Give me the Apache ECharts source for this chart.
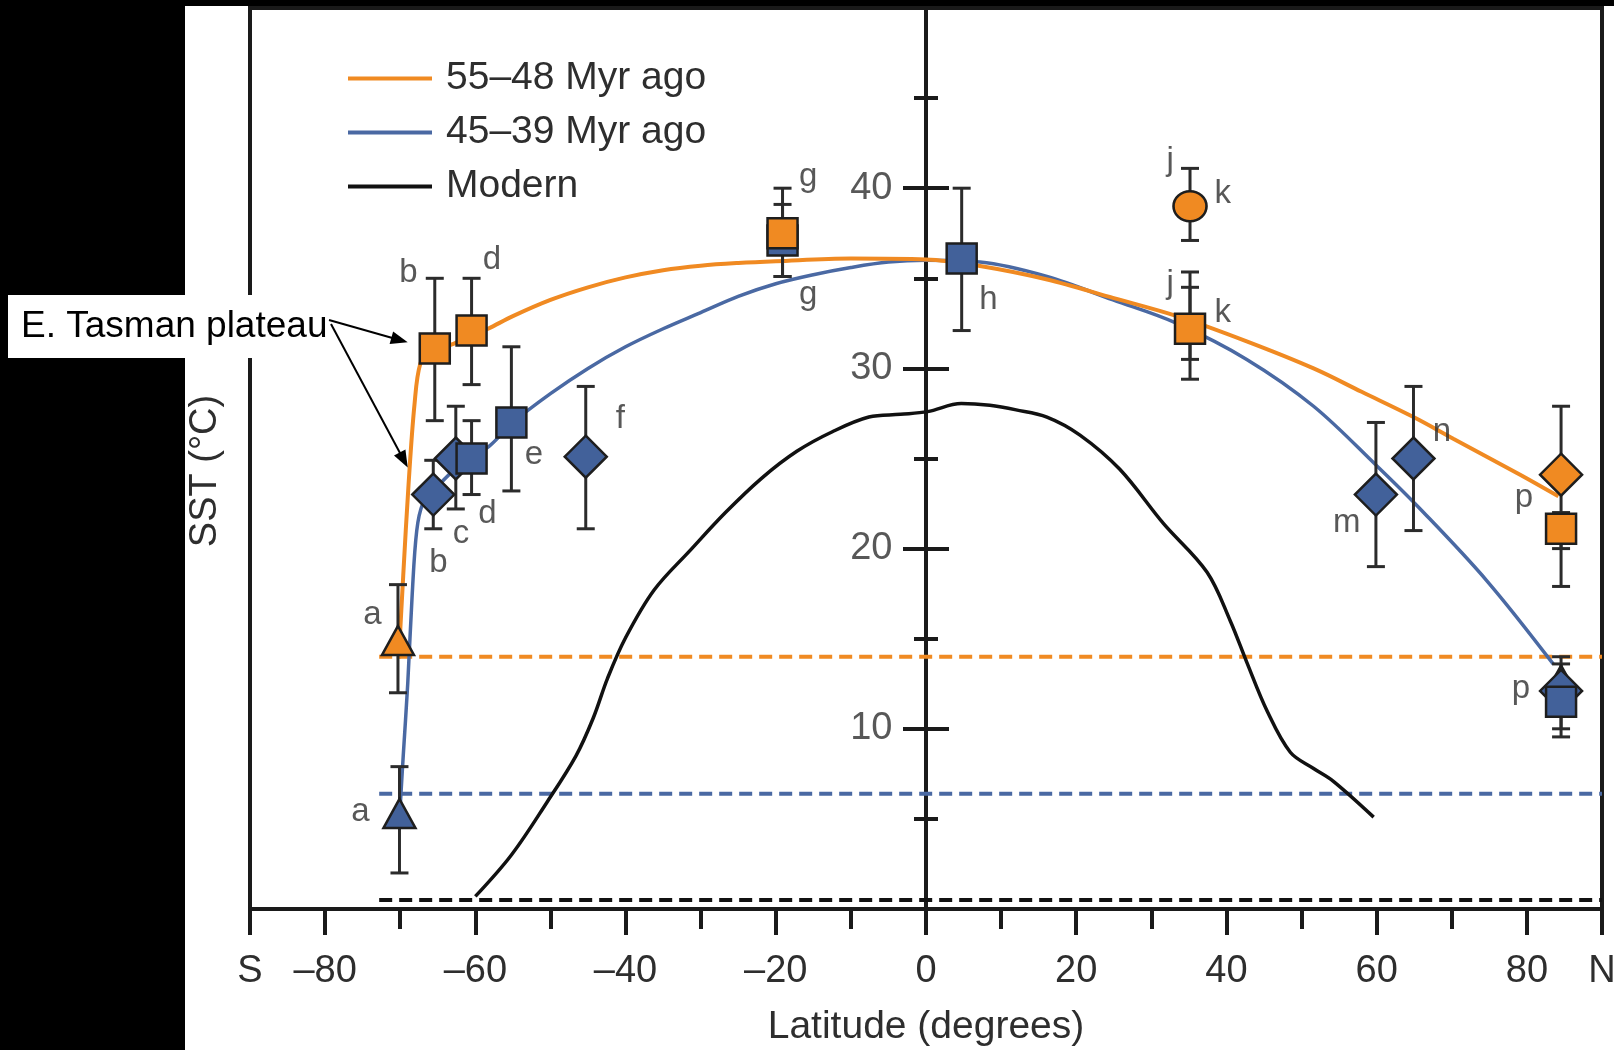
<!DOCTYPE html>
<html><head><meta charset="utf-8">
<script src="https://cdn.jsdelivr.net/npm/echarts@6/dist/echarts.min.js"></script>
<style>html,body{margin:0;padding:0;background:#fff}#chart{width:1614px;height:1050px}</style>
</head><body><div id="chart"></div>
<script>
// ---------------- data ----------------
const seriesNames = ['55–48 Myr ago', '45–39 Myr ago', 'Modern'];

const xTickValues = [-90, -80, -60, -40, -20, 0, 20, 40, 60, 80, 90];
const xTickLabels = ['S', '–80', '–60', '–40', '–20', '0', '20', '40', '60', '80', 'N'];
const xMajorTicks = [-90, -80, -60, -40, -20, 0, 20, 40, 60, 80, 90];
const xMinorTicks = [-70, -50, -30, -10, 10, 30, 50, 70];
const yTickValues = [10, 20, 30, 40];
const yTickLabels = ['10', '20', '30', '40'];

const orangeCurve = [[-70.2, 13.9], [-69.6, 18.5], [-68.9, 23.5], [-68.1, 28.0], [-67.3, 30.3], [-66.0, 30.9],
  [-63.3, 31.3], [-60.5, 31.8], [-58.3, 32.2], [-55, 32.9], [-50, 33.8], [-45, 34.5], [-40, 35.05],
  [-35, 35.45], [-30, 35.7], [-25, 35.85], [-20, 35.95], [-10, 36.1], [0, 36.05], [7, 35.7], [16, 34.95],
  [25, 33.9], [33.4, 32.9], [42.7, 31.5], [51.6, 30.0], [58, 28.7], [64.9, 27.3], [70.2, 26.1],
  [79.1, 24.1], [84.2, 22.9]];
const blueCurve = [[-70.1, 5.0], [-69.6, 8.5], [-69.0, 12.5], [-68.4, 17.5], [-67.8, 21.0], [-67.0, 22.5],
  [-65.6, 23.2], [-63, 24.3], [-60.5, 25.1], [-58.1, 25.7], [-55, 27.0], [-50, 28.6], [-45, 30.0],
  [-40, 31.2], [-35, 32.2], [-30, 33.1], [-25, 34.0], [-20, 34.7], [-15, 35.2], [-10, 35.6], [-5, 35.9],
  [0, 36.0], [7.2, 35.9], [16.1, 35.1], [24.9, 33.8], [33.4, 32.5], [42.7, 30.5], [51.6, 27.9],
  [60, 24.6], [65.8, 22.2], [74.7, 18.2], [83.5, 13.6]];
const modernCurve = [[-60.0, 0.7], [-55.2, 3.0], [-50.5, 5.9], [-46.6, 8.5], [-44.3, 10.6], [-42.4, 12.8],
  [-40.0, 15.05], [-36.2, 17.7], [-31.4, 19.9], [-26.7, 22.0], [-21.9, 23.9], [-17.2, 25.4], [-12.4, 26.5],
  [-7.6, 27.3], [-3.4, 27.45], [0.2, 27.6], [4.7, 28.05], [8.5, 27.95], [12, 27.7], [16.1, 27.3],
  [20.5, 26.3], [25.8, 24.4], [31.6, 21.4], [37.4, 18.7], [40.5, 16.0], [42.7, 13.7], [45.4, 11.0],
  [48.5, 8.7], [51.6, 7.8], [54.2, 7.1], [59.6, 5.1]];

const limitStart = -72.8;
const orangeLimit = 14.0;
const blueLimit = 6.4;
const modernLimit = 0.5;

const orangeTriangles = [[-70.3, 14.9]];
const orangeCircles = [[35.15, 39.0]];
const orangeDiamonds = [[84.55, 24.1]];
const orangeSquares = [[-65.4, 31.1], [-60.5, 32.1], [-19.1, 37.5], [35.15, 32.2], [84.55, 21.1]];
const blueTriangles = [[-70.1, 5.3], [84.55, 12.7]];
const blueDiamonds = [[-62.6, 25.0], [-65.6, 23.0], [-45.3, 25.1], [59.9, 23.0], [64.9, 25.0], [84.55, 12.1]];
const blueSquares = [[-60.5, 25.0], [-55.2, 27.0], [-19.1, 37.1], [4.75, 36.1], [84.55, 11.5]];

// [latitude, low, high]
const errorBars = [
  [-70.3, 12.0, 18.0], [-70.1, 2.0, 7.9],
  [-65.4, 27.1, 35.0], [-60.5, 29.1, 35.0],
  [-65.6, 21.1, 24.9], [-62.6, 22.2, 27.9], [-60.5, 23.0, 27.1], [-55.2, 23.2, 31.2], [-45.3, 21.1, 29.0],
  [-19.1, 35.1, 40.0], [-19.1, 35.1, 39.1],
  [4.75, 32.1, 40.0],
  [35.15, 37.1, 41.1], [35.15, 29.4, 35.35], [35.15, 30.5, 34.5],
  [59.9, 19.0, 27.0], [64.9, 21.0, 29.0],
  [84.55, 20.0, 27.9], [84.55, 17.9, 22.0],
  [84.55, 10.0, 13.6], [84.55, 9.55, 14.0]
];

const letterLabels = [
  ['a', -73.7, 16.3], ['a', -75.3, 5.4],
  ['b', -68.9, 35.3], ['d', -57.8, 36.0],
  ['b', -64.9, 19.2], ['c', -61.9, 20.8], ['d', -58.4, 21.9], ['e', -52.2, 25.2], ['f', -40.7, 27.2],
  ['g', -15.7, 40.6], ['g', -15.7, 34.1], ['h', 8.3, 33.8],
  ['j', 32.5, 41.5], ['k', 39.5, 39.7], ['j', 32.5, 34.7], ['k', 39.5, 33.1],
  ['m', 56.0, 21.4], ['n', 68.7, 26.5], ['p', 79.6, 22.8], ['p', 79.2, 12.2]
];

const annotationText = 'E. Tasman plateau';
const arrowTargets = [[-69.0, 31.45], [-69.0, 24.5]];

// ---------------- style ----------------
const FONT = "'Liberation Sans', Arial, Helvetica, sans-serif";
const ORANGE = '#f08a22';
const BLUE_LINE = '#4a69a3';
const BLUE_FILL = '#42619a';
const INK = '#1a1a1a';
const TEXT = '#2e2e2e';

const chart = echarts.init(document.getElementById('chart'), null, {renderer: 'canvas'});

function markerSeries(data, symbol, size, fill) {
  return {
    type: 'scatter', data: data, symbol: symbol, symbolSize: size, silent: true, z: 5,
    itemStyle: {color: fill, borderColor: '#1e1e1e', borderWidth: 2.5, opacity: 1}
  };
}
function limitSeries(level, color) {
  return {
    type: 'line', data: [[limitStart, level], [90, level]], symbol: 'none', silent: true, z: 2,
    lineStyle: {color: color, width: 4, type: [13, 7]}
  };
}
function curveSeries(name, data, color, width) {
  return {
    name: name, type: 'line', data: data, symbol: 'none', showSymbol: false, silent: true, z: 3,
    smooth: 0.35, color: color,
    itemStyle: {color: color}, lineStyle: {color: color, width: width}
  };
}

const xLabelMap = {};
xTickValues.forEach((v, i) => { xLabelMap[v] = xTickLabels[i]; });

const tickLine = {color: INK, width: 4};

const option = {
  backgroundColor: '#ffffff',
  animation: false,
  textStyle: {fontFamily: FONT},
  grid: {left: 250, right: 12, top: 8, bottom: 141, show: true, borderColor: INK, borderWidth: 4,
    backgroundColor: 'transparent', containLabel: false, outerBoundsMode: 'none'},
  legend: {
    data: seriesNames, orient: 'vertical', left: 343, top: 54, icon: 'rect',
    itemWidth: 84, itemHeight: 4, itemGap: 15, selectedMode: false,
    textStyle: {fontSize: 39, color: TEXT, fontFamily: FONT, lineHeight: 38, padding: [0, 0, 0, 9]}
  },
  xAxis: [
    {type: 'value', min: -90, max: 90, interval: 10, position: 'bottom',
      axisLine: {onZero: false, lineStyle: {color: INK, width: 4}},
      axisTick: {show: true, customValues: xMajorTicks, length: 26, lineStyle: tickLine},
      axisLabel: {customValues: xTickValues, formatter: v => xLabelMap[v] || '', margin: 44,
        fontSize: 38, color: TEXT, fontFamily: FONT},
      splitLine: {show: false},
      name: 'Latitude (degrees)', nameLocation: 'middle', nameGap: 99,
      nameTextStyle: {fontSize: 39, color: TEXT, fontFamily: FONT}},
    {type: 'value', min: -90, max: 90, interval: 10, position: 'bottom',
      axisLine: {show: false, onZero: false},
      axisTick: {show: true, customValues: xMinorTicks, length: 20, lineStyle: tickLine},
      axisLabel: {show: false}, splitLine: {show: false}}
  ],
  yAxis: [
    {type: 'value', min: 0, max: 50, interval: 10, position: 'left',
      axisLine: {show: true, onZero: true, onZeroAxisIndex: 0, lineStyle: {color: INK, width: 4}},
      axisTick: {show: true, length: 23, lineStyle: tickLine},
      minorTick: {show: true, splitNumber: 2, length: 12, lineStyle: tickLine},
      axisLabel: {show: false},
      splitLine: {show: false}, minorSplitLine: {show: false}},
    {type: 'value', min: 0, max: 50, interval: 10, position: 'right',
      axisLine: {show: true, onZero: true, onZeroAxisIndex: 0, lineStyle: {color: INK, width: 4}},
      axisTick: {show: true, length: 23, lineStyle: tickLine},
      minorTick: {show: true, splitNumber: 2, length: 12, lineStyle: tickLine},
      axisLabel: {show: false}, splitLine: {show: false}, minorSplitLine: {show: false}}
  ],
  series: [
    limitSeries(modernLimit, '#111'),
    limitSeries(blueLimit, BLUE_LINE),
    limitSeries(orangeLimit, ORANGE),
    curveSeries(seriesNames[2], modernCurve, '#111', 3.5),
    curveSeries(seriesNames[1], blueCurve, BLUE_LINE, 3.5),
    curveSeries(seriesNames[0], orangeCurve, ORANGE, 4),
    {
      type: 'custom', data: errorBars, silent: true, z: 4, clip: false,
      encode: {x: 0, y: [1, 2]},
      renderItem: function (params, api) {
        const lat = api.value(0);
        const lo = api.coord([lat, api.value(1)]);
        const hi = api.coord([lat, api.value(2)]);
        const hw = 9;
        const style = {stroke: '#2b2b2b', lineWidth: 3, fill: null};
        return {type: 'group', children: [
          {type: 'line', shape: {x1: lo[0], y1: lo[1], x2: hi[0], y2: hi[1]}, style: style},
          {type: 'line', shape: {x1: lo[0] - hw, y1: lo[1], x2: lo[0] + hw, y2: lo[1]}, style: style},
          {type: 'line', shape: {x1: hi[0] - hw, y1: hi[1], x2: hi[0] + hw, y2: hi[1]}, style: style}
        ]};
      }
    },
    markerSeries(blueTriangles, 'triangle', [32, 29], BLUE_FILL),
    markerSeries(blueDiamonds, 'diamond', 42, BLUE_FILL),
    markerSeries(blueSquares, 'rect', 30, BLUE_FILL),
    markerSeries(orangeTriangles, 'triangle', [32, 29], ORANGE),
    markerSeries(orangeCircles, 'circle', [33, 30], ORANGE),
    markerSeries(orangeDiamonds, 'diamond', 42, ORANGE),
    markerSeries(orangeSquares, 'rect', 30, ORANGE),
    {
      type: 'scatter', silent: true, z: 6, symbol: 'circle', symbolSize: 1,
      itemStyle: {color: 'rgba(0,0,0,0)'},
      data: letterLabels.map(d => ({name: d[0], value: [d[1], d[2]]})),
      label: {show: true, position: 'inside', formatter: p => p.name, fontSize: 33,
        color: TEXT, fontFamily: FONT}
    },
    {
      // y-axis tick labels, placed beside the axis at latitude 0
      type: 'scatter', silent: true, z: 6, symbol: 'circle', symbolSize: 1,
      itemStyle: {color: 'rgba(0,0,0,0)'},
      data: yTickValues.map((v, i) => ({name: yTickLabels[i], value: [0, v]})),
      label: {show: true, position: 'left', distance: 33, formatter: p => p.name, fontSize: 38,
        color: TEXT, fontFamily: FONT}
    }
  ]
};
chart.setOption(option);

// ---------------- annotations ----------------
function arrow(start, tip) {
  const dx = tip[0] - start[0], dy = tip[1] - start[1];
  const L = Math.hypot(dx, dy), ux = dx / L, uy = dy / L;
  const hl = 17, hw = 6.5;
  const base = [tip[0] - ux * hl, tip[1] - uy * hl];
  return [
    {type: 'line', z: 101, silent: true, shape: {x1: start[0], y1: start[1], x2: base[0] + ux * 2, y2: base[1] + uy * 2},
      style: {stroke: '#000', lineWidth: 2}},
    {type: 'polygon', z: 101, silent: true,
      shape: {points: [tip, [base[0] - uy * hw, base[1] + ux * hw], [base[0] + uy * hw, base[1] - ux * hw]]},
      style: {fill: '#000'}}
  ];
}
const orangeIdx = 5;
const tips = arrowTargets.map(t => chart.convertToPixel({seriesIndex: orangeIdx}, t));
const graphics = [
  {type: 'rect', z: 100, silent: true, shape: {x: 0, y: 0, width: 185, height: 1050}, style: {fill: '#000'}},
  {type: 'rect', z: 100, silent: true, shape: {x: 0, y: 0, width: 1614, height: 6}, style: {fill: '#000'}},
  {type: 'rect', z: 100, silent: true, shape: {x: 8, y: 295, width: 322, height: 63}, style: {fill: '#fff'}},
  {type: 'text', z: 101, silent: true, x: 21, y: 327,
    style: {text: annotationText, font: '37px ' + FONT, fill: '#000', verticalAlign: 'middle', align: 'left'}},
  {type: 'text', z: 101, silent: true, x: 206, y: 471, rotation: Math.PI / 2,
    style: {text: 'SST (°C)', font: '38px ' + FONT, fill: TEXT, verticalAlign: 'middle', align: 'center'}}
].concat(arrow([329, 320], tips[0]), arrow([331, 324], tips[1]));
chart.setOption({graphic: graphics});
</script></body></html>
